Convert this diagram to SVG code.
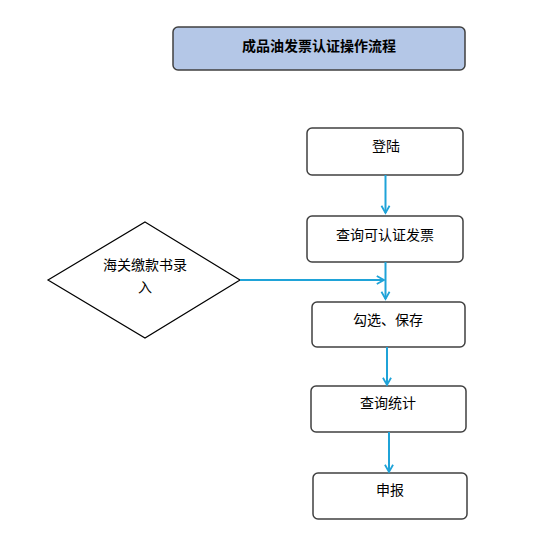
<svg xmlns="http://www.w3.org/2000/svg" width="545" height="551" viewBox="0 0 545 551">
<style>
.box{fill:#fff;stroke:#404040;stroke-width:1.5}
.title{fill:#b4c7e7;stroke:#404040;stroke-width:1.5}
.t{font-family:"Noto Sans CJK SC","Liberation Sans",sans-serif;font-size:14px;fill:#000;text-anchor:middle}
.tb{font-family:"Noto Sans CJK SC","Liberation Sans",sans-serif;font-size:14px;font-weight:bold;fill:#000;text-anchor:middle}
.c{stroke:#1fa3d8;stroke-width:2;fill:none}
</style>
<defs>
<marker id="arr" viewBox="0 0 10 10" refX="9" refY="5" markerWidth="9" markerHeight="10" markerUnits="userSpaceOnUse" orient="auto" overflow="visible">
<path d="M1,0.5 L9,5 L1,9.5" fill="none" stroke="#1fa3d8" stroke-width="2"/>
</marker>
</defs>
<rect width="545" height="551" fill="#fff"/>
<g id="title">
<rect class="title" x="173" y="27" width="292" height="43" rx="5"/>
<text class="tb" x="319" y="51">成品油发票认证操作流程</text>
</g>
<g id="n1">
<rect class="box" x="307" y="128" width="156" height="47" rx="5"/>
<text class="t" x="386" y="151">登陆</text>
</g>
<g id="n2">
<rect class="box" x="307" y="216" width="156" height="46" rx="5"/>
<text class="t" x="385" y="240">查询可认证发票</text>
</g>
<g id="n3">
<rect class="box" x="312" y="302" width="153" height="45" rx="5"/>
<text class="t" x="388" y="325">勾选、保存</text>
</g>
<g id="n4">
<rect class="box" x="311" y="386" width="155" height="46" rx="5"/>
<text class="t" x="388" y="408">查询统计</text>
</g>
<g id="n5">
<rect class="box" x="313" y="473" width="154" height="46" rx="5"/>
<text class="t" x="390" y="495">申报</text>
</g>
<g id="d1">
<polygon points="145,222 240,280 145,338 48,280" fill="#fff" stroke="#000" stroke-width="1.2"/>
<text class="t" x="145" y="270">海关缴款书录</text>
<text class="t" x="145" y="292">入</text>
</g>
<g id="connectors">
<line class="c" x1="385.5" y1="175" x2="385.5" y2="213" marker-end="url(#arr)"/>
<line class="c" x1="385.5" y1="262" x2="385.5" y2="299" marker-end="url(#arr)"/>
<line class="c" x1="240" y1="280" x2="384" y2="280" marker-end="url(#arr)"/>
<line class="c" x1="387" y1="347" x2="387" y2="385" marker-end="url(#arr)"/>
<line class="c" x1="389" y1="432" x2="389" y2="472" marker-end="url(#arr)"/>
</g>
</svg>
